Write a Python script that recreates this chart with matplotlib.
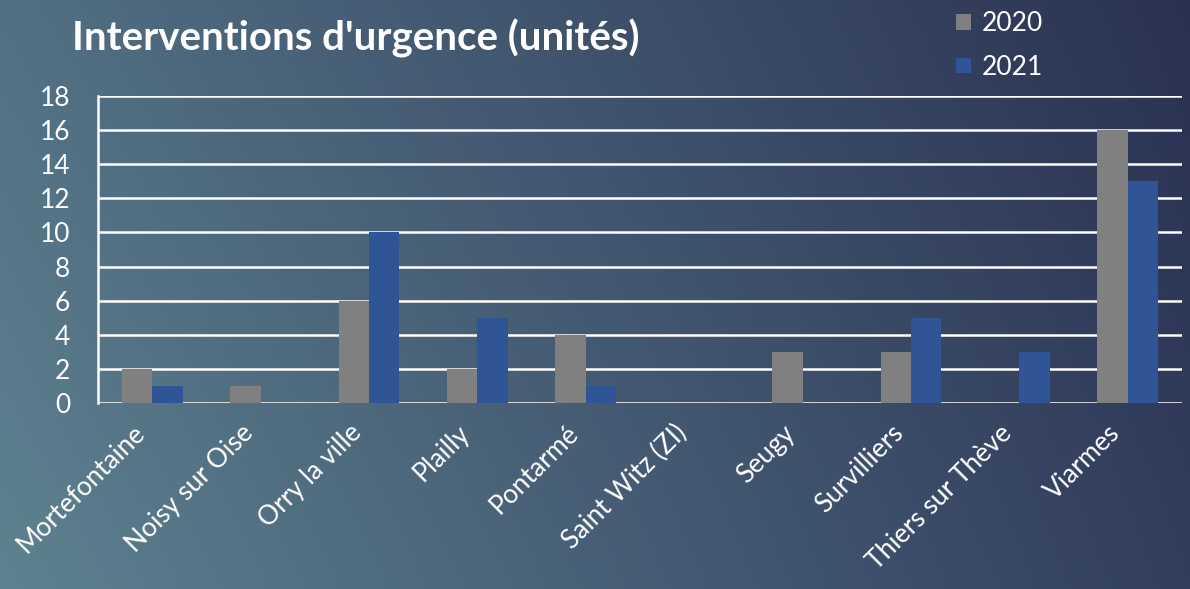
import numpy as np
import matplotlib.pyplot as plt
from matplotlib.transforms import ScaledTranslation

communes = ["Mortefontaine", "Noisy sur Oise", "Orry la ville", "Plailly", "Pontarmé",
            "Saint Witz (ZI)", "Seugy", "Survilliers", "Thiers sur Thève", "Viarmes"]
v2020 = [2, 1, 6, 2, 4, 0, 3, 3, 0, 16]
v2021 = [1, 0, 10, 5, 1, 0, 0, 5, 3, 13]
yticks = list(range(0, 19, 2))

plt.rcParams['font.family'] = ['Lato', 'DejaVu Sans']

fig = plt.figure(figsize=(11.9, 5.89), dpi=100)

# background gradient (bilinear between corner colours)
bg = fig.add_axes([0, 0, 1, 1], zorder=-10)
tl = np.array([82, 112, 132]) / 255
tr = np.array([42, 50, 82]) / 255
bl = np.array([94, 130, 144]) / 255
br = np.array([50, 62, 94]) / 255
u = np.linspace(0, 1, 300)[None, :, None]
w = np.linspace(0, 1, 150)[:, None, None]
img = (1 - w) * ((1 - u) * tl + u * tr) + w * ((1 - u) * bl + u * br)
bg.imshow(img, aspect='auto', extent=[0, 1, 0, 1])
bg.axis('off')

ax = fig.add_axes([0.0824, 0.3158, 0.9109, 0.5212])
ax.set_facecolor('none')
x = np.arange(len(communes))
bw = 0.28
ax.bar(x - bw / 2, v2020, bw, color='#808080', label='2020', zorder=3)
ax.bar(x + bw / 2, v2021, bw, color='#2f5597', label='2021', zorder=3)

ax.set_xlim(-0.5, len(communes) - 0.5)
ax.set_ylim(0, 18)
ax.set_yticks(yticks)
ax.grid(axis='y', color='white', linewidth=1.8, zorder=1)
for s in ['top', 'right', 'bottom']:
    ax.spines[s].set_visible(False)
ax.spines['left'].set_color('white')
ax.spines['left'].set_linewidth(1.8)
ax.tick_params(axis='y', length=0, pad=20, labelcolor='white', labelsize=19)
ax.tick_params(axis='x', length=0, pad=8, labelcolor='white', labelsize=19)
ax.set_xticks(x)
ax.set_xticklabels(communes, rotation=45, ha='right', va='top', rotation_mode='anchor')
shift = ScaledTranslation(-20 / 100, -6 / 100, fig.dpi_scale_trans)
for lbl in ax.get_xticklabels():
    lbl.set_transform(lbl.get_transform() + shift)

fig.text(0.0605, 0.935, "Interventions d'urgence (unités)", color='white',
         fontsize=29, fontweight='bold', va='center', ha='left')

leg = ax.legend(loc='upper left', bbox_to_anchor=(0.782, 1.31), frameon=False,
                fontsize=19, handlelength=0.55, handleheight=0.55, handletextpad=0.4,
                labelspacing=0.7, borderaxespad=0)
for t in leg.get_texts():
    t.set_color('white')

fig.savefig('out.png', dpi=100)
